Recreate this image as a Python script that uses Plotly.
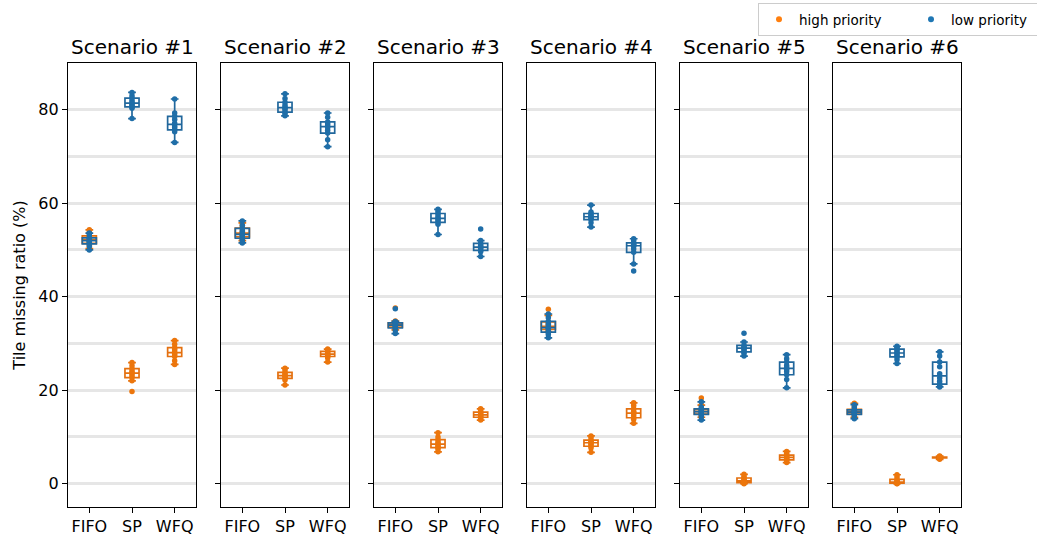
import plotly.graph_objects as go
from plotly.subplots import make_subplots

categories = ["FIFO", "SP", "WFQ"]
scenarios = ["Scenario #1", "Scenario #2", "Scenario #3", "Scenario #4", "Scenario #5", "Scenario #6"]
y_ticks = [0, 20, 40, 60, 80]

# each list: [FIFO samples, SP samples, WFQ samples]
s1_high = [[50.3, 51.0, 51.4, 51.8, 52.0, 52.3, 52.6, 53.0, 53.8, 54.3],
           [19.7, 22.0, 22.7, 23.1, 23.5, 23.8, 24.1, 24.6, 25.2, 25.9],
           [25.5, 26.3, 27.2, 27.6, 27.9, 28.2, 28.7, 29.1, 29.8, 30.6]]
s1_low = [[50.0, 50.8, 51.3, 51.6, 51.9, 52.1, 52.4, 52.6, 53.2, 53.6],
          [78.1, 80.3, 80.6, 80.9, 81.2, 81.6, 82.0, 82.5, 83.0, 83.7],
          [73.0, 75.3, 75.7, 76.2, 76.6, 77.1, 77.9, 78.6, 79.3, 82.3]]
s2_high = [[52.0, 52.3, 52.8, 53.2, 53.5, 53.7, 54.1, 54.7, 55.2, 55.8],
           [21.1, 22.2, 22.5, 22.8, 23.0, 23.2, 23.5, 23.8, 24.3, 24.7],
           [26.0, 26.9, 27.2, 27.4, 27.6, 27.8, 28.0, 28.3, 28.6, 28.8]]
s2_low = [[51.5, 52.0, 52.5, 52.9, 53.2, 53.5, 54.0, 54.6, 55.3, 56.2],
          [78.7, 79.2, 79.5, 80.0, 80.3, 80.6, 81.0, 81.6, 82.4, 83.4],
          [72.1, 73.6, 75.0, 75.6, 76.2, 76.6, 77.0, 77.4, 78.4, 79.3]]
s3_high = [[32.9, 33.2, 33.5, 33.7, 33.9, 34.0, 34.2, 34.4, 34.8, 37.6],
           [6.8, 7.4, 7.7, 8.0, 8.3, 8.6, 8.9, 9.4, 10.0, 10.9],
           [13.6, 14.0, 14.2, 14.4, 14.6, 14.8, 15.0, 15.3, 15.6, 16.0]]
s3_low = [[32.1, 32.8, 33.3, 33.6, 33.8, 34.0, 34.2, 34.4, 34.7, 37.4],
          [53.3, 55.5, 55.9, 56.3, 56.6, 56.9, 57.3, 57.8, 58.3, 58.7],
          [48.6, 49.6, 49.9, 50.3, 50.5, 50.7, 51.0, 51.4, 52.0, 54.5]]
s4_high = [[32.4, 32.8, 33.0, 33.2, 33.4, 33.9, 34.3, 34.6, 36.0, 37.3],
           [6.7, 7.6, 8.0, 8.3, 8.6, 8.9, 9.1, 9.3, 9.8, 10.2],
           [12.9, 13.8, 14.1, 14.6, 15.0, 15.2, 15.5, 16.0, 16.7, 17.3]]
s4_low = [[31.2, 31.9, 32.4, 32.9, 33.2, 33.6, 34.1, 34.7, 35.5, 36.3],
          [54.9, 55.8, 56.5, 56.8, 57.0, 57.2, 57.5, 57.8, 58.1, 59.6],
          [45.5, 47.0, 49.5, 50.2, 50.8, 51.0, 51.2, 51.5, 52.0, 52.4]]
s5_high = [[14.2, 14.6, 14.9, 15.1, 15.3, 15.5, 15.7, 15.9, 16.8, 18.3],
           [0.0, 0.1, 0.2, 0.4, 0.5, 0.7, 0.9, 1.2, 1.6, 2.0],
           [4.5, 4.9, 5.1, 5.3, 5.5, 5.7, 5.9, 6.1, 6.5, 6.9]]
s5_low = [[13.6, 14.3, 14.8, 15.1, 15.3, 15.5, 15.8, 16.0, 16.4, 17.5],
          [27.3, 27.9, 28.2, 28.6, 28.9, 29.1, 29.3, 29.6, 30.3, 32.2],
          [20.5, 22.3, 23.3, 24.0, 24.5, 24.8, 25.3, 26.0, 26.7, 27.6]]
s6_high = [[14.2, 14.6, 14.9, 15.1, 15.3, 15.5, 15.7, 15.9, 16.5, 17.2],
           [0.0, 0.05, 0.1, 0.2, 0.3, 0.4, 0.6, 0.9, 1.4, 1.9],
           [5.2, 5.4, 5.5, 5.5, 5.6, 5.6, 5.7, 5.7, 5.8, 5.9]]
s6_low = [[13.9, 14.3, 14.8, 15.0, 15.2, 15.4, 15.6, 15.8, 16.3, 16.9],
          [25.7, 26.5, 27.1, 27.4, 27.8, 28.1, 28.5, 28.8, 29.2, 29.4],
          [20.7, 21.0, 21.3, 21.9, 22.6, 23.5, 25.0, 26.0, 27.3, 28.2]]

high_all = [s1_high, s2_high, s3_high, s4_high, s5_high, s6_high]
low_all = [s1_low, s2_low, s3_low, s4_low, s5_low, s6_low]

ORANGE_LINE = "#e4700f"
ORANGE_PT = "#ec760c"
BLUE_LINE = "#21679c"
BLUE_PT = "#1f6ea8"
FONT = "DejaVu Sans"

W, H = 1037, 538
fig = make_subplots(rows=1, cols=6, shared_yaxes=True, subplot_titles=scenarios,
                    horizontal_spacing=0.02)

for i in range(6):
    for series, lc, pc in [(high_all[i], ORANGE_LINE, ORANGE_PT), (low_all[i], BLUE_LINE, BLUE_PT)]:
        xs, ys = [], []
        for c, vals in zip(categories, series):
            xs += [c] * len(vals)
            ys += vals
        fig.add_trace(go.Box(x=xs, y=ys, boxpoints="all", jitter=0, pointpos=0,
                             fillcolor="rgba(255,255,255,0)", line=dict(color=lc, width=1.7),
                             marker=dict(color=pc, size=5.5), width=0.33, whiskerwidth=0.55,
                             quartilemethod="linear", showlegend=False, hoverinfo="y"),
                      row=1, col=i + 1)

# legend entries
fig.add_trace(go.Scatter(x=[None], y=[None], mode="markers", name="high priority",
                         marker=dict(color="#ff7f0e", size=6)), row=1, col=1)
fig.add_trace(go.Scatter(x=[None], y=[None], mode="markers", name="low priority",
                         marker=dict(color="#1f77b4", size=6)), row=1, col=1)

left0, pw, step = 68, 128, 153
ytop, ybot = 63, 507
for i in range(6):
    x0 = (left0 + i * step) / W
    x1 = (left0 + i * step + pw) / W
    axn = "" if i == 0 else str(i + 1)
    fig.layout["xaxis" + axn].update(
        domain=[x0, x1], type="category", categoryorder="array", categoryarray=categories,
        range=[-0.5, 2.5], showline=True, mirror=True, linecolor="black", linewidth=1.2,
        ticks="outside", ticklen=5, tickwidth=1.2, tickcolor="black", showgrid=False,
        tickfont=dict(family=FONT, size=16, color="black"), zeroline=False, automargin=False)
    fig.layout["yaxis" + axn].update(
        domain=[1 - ybot / H, 1 - ytop / H], range=[-5, 90], tickvals=y_ticks,
        showline=True, mirror=True, linecolor="black", linewidth=1.2,
        ticks="outside", ticklen=5, tickwidth=1.2, tickcolor="black",
        showgrid=True, gridcolor="#e6e6e6", gridwidth=2.5,
        minor=dict(dtick=10, tick0=0, showgrid=True, gridcolor="#e6e6e6", gridwidth=2.5, ticks=""),
        tickfont=dict(family=FONT, size=16, color="black"), zeroline=False, automargin=False)
    fig.layout.annotations[i].update(x=(x0 + x1) / 2, y=1 - ytop / H, yanchor="bottom", yshift=2,
                                     font=dict(family=FONT, size=20, color="black"))

fig.layout.yaxis.update(title=dict(text="Tile missing ratio (%)", standoff=8,
                                   font=dict(family=FONT, size=16, color="black")))

fig.update_layout(
    width=W, height=H, margin=dict(l=0, r=0, t=0, b=0, autoexpand=False), boxmode="overlay",
    plot_bgcolor="white", paper_bgcolor="white",
    legend=dict(orientation="h", x=758 / W, xanchor="left", y=1 - 3 / H, yanchor="top",
                bordercolor="#cccccc", borderwidth=1, bgcolor="white",
                font=dict(family=FONT, size=13.5, color="black"),
                entrywidth=107, entrywidthmode="pixels"),
    font=dict(family=FONT),
)

fig.write_html("out.html")
